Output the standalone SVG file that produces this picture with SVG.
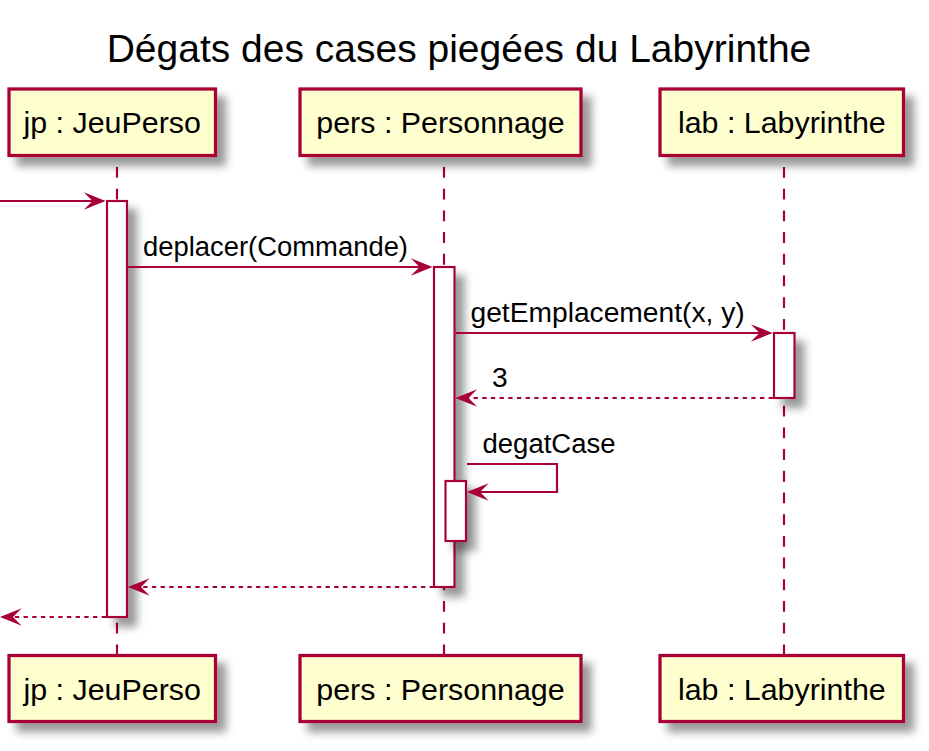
<svg xmlns="http://www.w3.org/2000/svg" width="929" height="751" viewBox="0 0 929 751">
<style>
text{font-family:"Liberation Sans",Arial,sans-serif;fill:#000}
.title{font-size:39px}
.pt{font-size:30.4px}
.msg{font-size:28.2px}
.box{fill:#FEFECE;stroke:#A80036;stroke-width:3.25}
.act{fill:#FFFFFF;stroke:#A80036;stroke-width:2.17}
.life{stroke:#A80036;stroke-width:2.17;stroke-dasharray:10.85,10.85;fill:none}
.line{stroke:#A80036;stroke-width:2.17;fill:none}
.dot{stroke-dasharray:4.34,4.34}
</style>
<defs>
<filter id="sh" x="-1" y="-1" width="300%" height="300%">
<feGaussianBlur stdDeviation="4.34" result="b"/>
<feColorMatrix in="b" type="matrix" values="0 0 0 0 0 0 0 0 0 0 0 0 0 0 0 0 0 0 .4 0" result="b2"/>
<feOffset in="b2" dx="8.68" dy="8.68" result="b3"/>
<feBlend in="SourceGraphic" in2="b3" mode="normal"/>
</filter>
<marker id="ah" viewBox="-22 -10 25 20" refX="0" refY="0" markerWidth="25" markerHeight="20" markerUnits="userSpaceOnUse" orient="auto">
<path d="M2,0 L-19.7,-8.7 L-11,0 L-19.7,8.7 Z" fill="#A80036"/>
</marker>
</defs>
<rect width="929" height="751" fill="#FFFFFF"/>
<text class="title" x="459" y="62" text-anchor="middle">Dégats des cases piegées du Labyrinthe</text>

<g id="jp">
<line class="life" x1="117" y1="167" x2="117" y2="655"/>
<rect class="box" x="9" y="89" width="206.5" height="66.5" filter="url(#sh)"/>
<text class="pt" x="112.2" y="133" text-anchor="middle">jp : JeuPerso</text>
<rect class="box" x="9" y="655.5" width="206.5" height="66" filter="url(#sh)"/>
<text class="pt" x="112.2" y="700" text-anchor="middle">jp : JeuPerso</text>
<rect class="act" x="107" y="201" width="20" height="416" filter="url(#sh)"/>
</g>

<g id="pers">
<line class="life" x1="444" y1="167" x2="444" y2="655"/>
<rect class="box" x="300" y="89" width="281" height="66.5" filter="url(#sh)"/>
<text class="pt" x="440.5" y="133" text-anchor="middle">pers : Personnage</text>
<rect class="box" x="300" y="655.5" width="281" height="66" filter="url(#sh)"/>
<text class="pt" x="440.5" y="700" text-anchor="middle">pers : Personnage</text>
<rect class="act" x="434" y="267" width="20.5" height="320" filter="url(#sh)"/>
<rect class="act" x="445.5" y="481" width="20.5" height="60" filter="url(#sh)"/>
</g>

<g id="lab">
<line class="life" x1="784" y1="167" x2="784" y2="655"/>
<rect class="box" x="660" y="89" width="243.5" height="66.5" filter="url(#sh)"/>
<text class="pt" x="781.8" y="133" text-anchor="middle">lab : Labyrinthe</text>
<rect class="box" x="660" y="655.5" width="243.5" height="66" filter="url(#sh)"/>
<text class="pt" x="781.8" y="700" text-anchor="middle">lab : Labyrinthe</text>
<rect class="act" x="774" y="333" width="20.5" height="65" filter="url(#sh)"/>
</g>

<g id="connectors">
<line class="line" x1="0" y1="201" x2="103.5" y2="201" marker-end="url(#ah)"/>
<line class="line" x1="128" y1="267" x2="430.5" y2="267" marker-end="url(#ah)"/>
<text class="msg" x="143" y="256" textLength="265" lengthAdjust="spacingAndGlyphs">deplacer(Commande)</text>
<line class="line" x1="455.5" y1="333" x2="770.5" y2="333" marker-end="url(#ah)"/>
<text class="msg" x="470.5" y="322">getEmplacement(x, y)</text>
<line class="line dot" x1="773" y1="398" x2="457.5" y2="398" marker-end="url(#ah)"/>
<text class="msg" x="492" y="387">3</text>
<polyline class="line" points="467,464 557,464 557,492 469,492" marker-end="url(#ah)"/>
<text class="msg" x="482.5" y="453" textLength="133" lengthAdjust="spacingAndGlyphs">degatCase</text>
<line class="line dot" x1="434" y1="587" x2="130" y2="587" marker-end="url(#ah)"/>
<line class="line dot" x1="106" y1="617" x2="2" y2="617" marker-end="url(#ah)"/>
</g>
</svg>
